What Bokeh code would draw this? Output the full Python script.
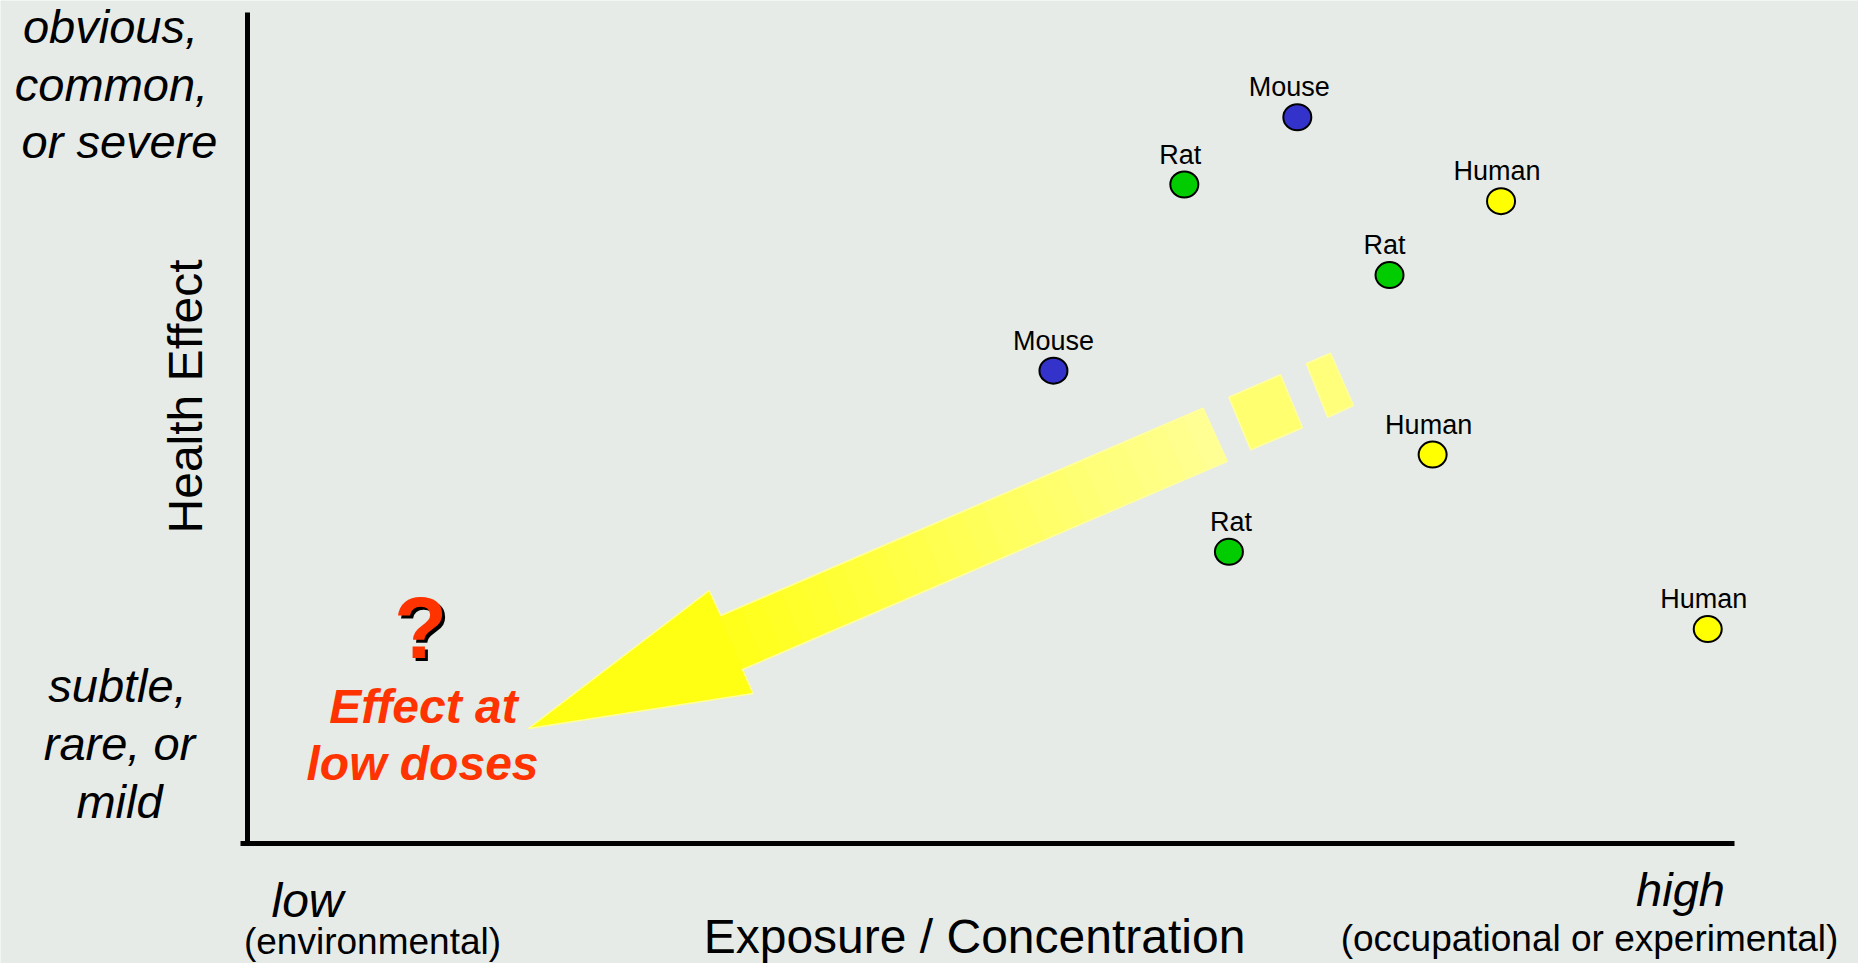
import numpy as np
from bokeh.plotting import figure
from bokeh.models import ColumnDataSource, Label, Range1d
from bokeh.core.properties import value
from bokeh.embed import file_html
from bokeh.resources import INLINE

# ---------------- data ----------------
species = ["Mouse", "Rat", "Human", "Rat", "Mouse", "Human", "Rat", "Human"]
exposure = [7.06, 6.30, 8.43, 7.68, 5.42, 7.97, 6.60, 9.82]
effect = [8.74, 7.93, 7.73, 6.84, 5.69, 4.68, 3.51, 2.58]
species_colors = {"Mouse": "#3333CC", "Rat": "#00CC00", "Human": "#FFFF00"}
x_axis_range = [0, 10]
y_axis_range = [0, 10]

# ---------------- layout ----------------
BG = "#E6EBE7"
FONT = "Liberation Sans"
W, H = 1858, 963
# pixel positions of the plot area (data 0..10)
LEFT_PX, RIGHT_PX, TOP_PX, BOTTOM_PX = 247.0, 1734.0, 12.0, 843.0
PXX = (RIGHT_PX - LEFT_PX) / (x_axis_range[1] - x_axis_range[0])
PXY = (BOTTOM_PX - TOP_PX) / (y_axis_range[1] - y_axis_range[0])
ASC = 0.35  # text anchor correction (fraction of font size)
label_shift_px = [-8, -4, -4, -5, 0, -4, 2, -4]  # small horizontal nudges of point labels


def dx(sx):
    return x_axis_range[0] + (sx - LEFT_PX) / PXX


def dy(sy):
    return y_axis_range[0] + (BOTTOM_PX - sy) / PXY


p = figure(width=W, height=H, x_range=Range1d(dx(0), dx(W)), y_range=Range1d(dy(H), dy(0)),
           output_backend="svg", toolbar_location=None,
           x_axis_location=None, y_axis_location=None,
           min_border=0, min_border_left=0, min_border_right=0,
           min_border_top=0, min_border_bottom=0,
           background_fill_color=BG, border_fill_color=BG, outline_line_color=None)
p.grid.visible = False

# axis lines
p.segment(x0=[x_axis_range[0]], y0=[y_axis_range[0]], x1=[x_axis_range[0]], y1=[y_axis_range[1]],
          line_color="black", line_width=5, line_cap="butt")
p.segment(x0=[dx(240)], y0=[y_axis_range[0]], x1=[x_axis_range[1]], y1=[y_axis_range[0]],
          line_color="black", line_width=5, line_cap="butt")

# ---------------- arrow (decoration) ----------------
upper_joint = np.array([720.4, 615.0])
lower_joint = np.array([742.0, 669.0])
upper_tail = np.array([1202.6, 407.7])
lower_tail = np.array([1226.7, 460.7])
tip = np.array([528.0, 728.0])
barb_u = np.array([708.7, 590.0])
barb_l = np.array([752.6, 693.0])

N = 24
xs, ys, cols = [], [], []
for i in range(N):
    t0, t1 = i / N, (i + 1) / N
    q = [upper_joint + (upper_tail - upper_joint) * t0,
         upper_joint + (upper_tail - upper_joint) * t1,
         lower_joint + (lower_tail - lower_joint) * t1,
         lower_joint + (lower_tail - lower_joint) * t0]
    xs.append([dx(v[0]) for v in q])
    ys.append([dy(v[1]) for v in q])
    g = int(25 + (150 - 25) * (i + 0.5) / N)
    cols.append("#FFFF%02X" % g)
p.patches(xs, ys, fill_color=cols, line_color=cols, line_width=1)
p.patch([dx(v[0]) for v in (tip, barb_u, barb_l)], [dy(v[1]) for v in (tip, barb_u, barb_l)],
        fill_color="#FFFF14", line_color="#FFFF14", line_width=1)
outline = [tip, barb_u, upper_joint, upper_tail, lower_tail, lower_joint, barb_l, tip]
p.line([dx(v[0]) for v in outline], [dy(v[1]) for v in outline],
       line_color="#FFFF9E", line_width=1.5)

dash1 = [(1228.4, 396.7), (1280.0, 374.3), (1301.9, 427.3), (1250.2, 449.3)]
dash2 = [(1305.9, 363.3), (1330.0, 352.7), (1353.0, 405.0), (1327.2, 416.7)]
p.patches([[dx(a) for a, b in dash1], [dx(a) for a, b in dash2]],
          [[dy(b) for a, b in dash1], [dy(b) for a, b in dash2]],
          fill_color=["#FFFF70", "#FFFF7C"], line_color="#FFFFA0", line_width=1.5)

# ---------------- data points ----------------
src = ColumnDataSource(dict(
    x=exposure, y=effect, species=species,
    color=[species_colors[s] for s in species],
    lx=[v + s / PXX for v, s in zip(exposure, label_shift_px)],
    ly=[v + 30 / PXY for v in effect],
))
p.ellipse(x="x", y="y", width=28, height=26, width_units="screen", height_units="screen",
          source=src, fill_color="color", line_color="black", line_width=2)
p.text(x="lx", y="ly", text="species", source=src, text_font=value(FONT),
       text_font_size=value("27px"), text_align="center", text_baseline="alphabetic",
       text_color="black")


# ---------------- annotation texts ----------------
def lab(text, sx, baseline, size, style="normal", color="black", rotated=False):
    if rotated:
        x, y, ang = dx(baseline - ASC * size), dy(sx), np.pi / 2
    else:
        x, y, ang = dx(sx), dy(baseline - ASC * size), 0.0
    p.add_layout(Label(x=x, y=y, text=text, text_font=FONT,
                       text_font_size=f"{size}px", text_font_style=style,
                       text_color=color, text_align="center",
                       text_baseline="alphabetic", angle=ang))


lab("obvious,", 110, 42, 47, "italic")
lab("common,", 111, 100, 47, "italic")
lab("or severe", 119, 157, 47, "italic")
lab("subtle,", 117, 701, 47, "italic")
lab("rare, or", 119, 759, 47, "italic")
lab("mild", 119, 817, 47, "italic")
lab("Health Effect", 396, 202, 48, rotated=True)

lab("low", 307, 917, 48, "italic")
lab("(environmental)", 372, 954, 37)
lab("Exposure / Concentration", 974, 953, 48)
lab("high", 1680, 905, 47, "italic")
lab("(occupational or experimental)", 1589, 951, 37)

lab("?", 423, 660, 87, "bold", "black")
lab("?", 420, 657, 87, "bold", "#FF3300")
lab("Effect at", 423, 723, 48, "bold italic", "#FF3300")
lab("low doses", 422, 780, 48, "bold italic", "#FF3300")

open("out.html", "w").write(file_html(p, INLINE))
